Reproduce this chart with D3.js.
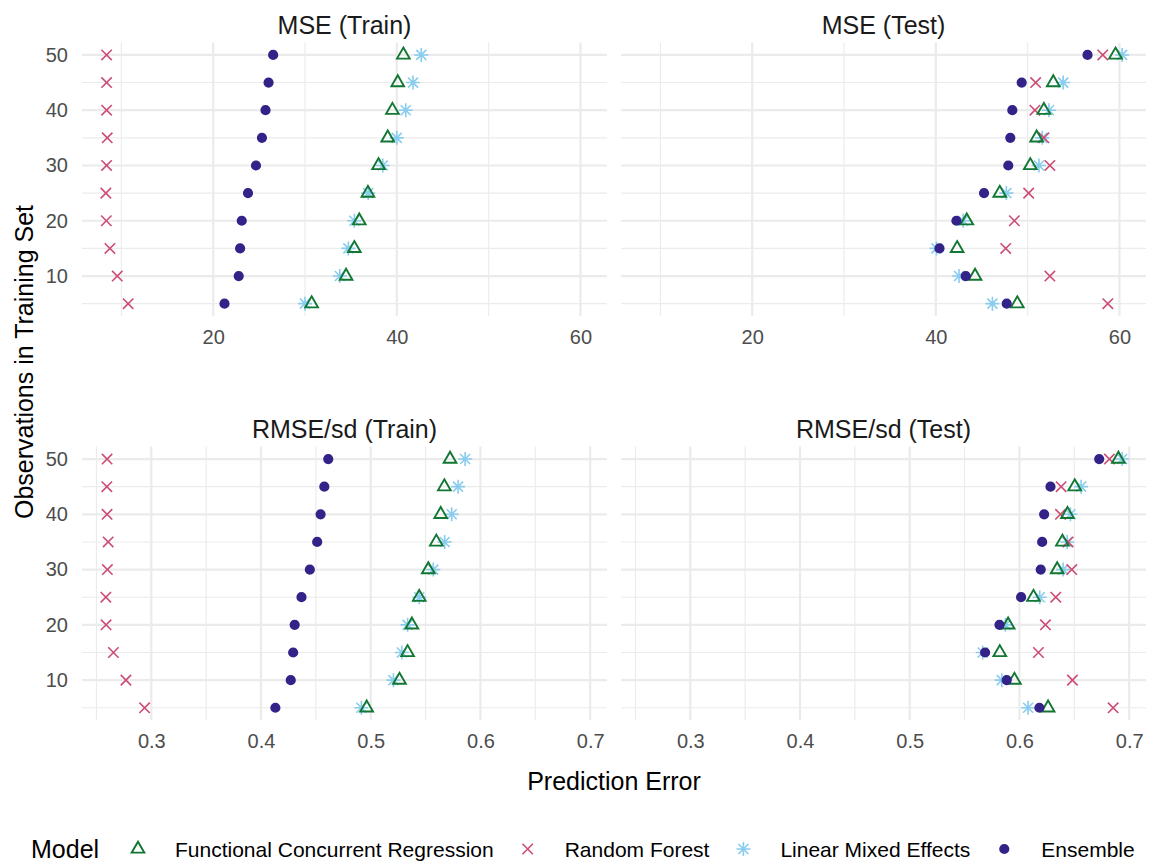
<!DOCTYPE html>
<html>
<head>
<meta charset="utf-8">
<script src="https://cdn.jsdelivr.net/npm/d3@7"></script>
<style>
  body { margin: 0; background: #fff; }
  svg { display: block; font-family: "Liberation Sans", Arial, Helvetica, sans-serif; }
</style>
</head>
<body>
<svg id="chart"></svg>
<script>
// observations in training set, same order for every series below
const obs = [50, 45, 40, 35, 30, 25, 20, 15, 10, 5];

const models = ["Functional Concurrent Regression", "Random Forest", "Linear Mixed Effects", "Ensemble"];
const modelColors = ["#117733", "#CC4C74", "#88CCEE", "#332288"];
const modelShapes = ["triangle", "cross", "asterisk", "circle"];

const panelTitles = ["MSE (Train)", "MSE (Test)", "RMSE/sd (Train)", "RMSE/sd (Test)"];

// MSE (Train)
const mseTrainFCR = [40.71, 40.10, 39.52, 39.01, 38.01, 36.85, 35.91, 35.37, 34.47, 30.72];
const mseTrainRF  = [8.39, 8.39, 8.39, 8.46, 8.39, 8.31, 8.36, 8.75, 9.55, 10.74];
const mseTrainLME = [42.66, 41.76, 40.97, 39.99, 38.47, 36.88, 35.37, 34.72, 33.79, 30.00];
const mseTrainEns = [26.53, 26.03, 25.70, 25.31, 24.66, 23.79, 23.11, 22.93, 22.78, 21.23];

// MSE (Test)
const mseTestFCR = [59.57, 52.79, 51.77, 50.98, 50.29, 46.96, 43.37, 42.32, 44.27, 48.87];
const mseTestRF  = [58.18, 50.87, 50.79, 51.77, 52.42, 50.11, 48.55, 47.61, 52.42, 58.73];
const mseTestLME = [60.29, 53.87, 52.32, 51.59, 51.23, 47.68, 42.97, 40.07, 42.53, 46.16];
const mseTestEns = [56.52, 49.35, 48.33, 48.11, 47.89, 45.25, 42.24, 40.40, 43.26, 47.72];

// RMSE/sd (Train)
const rmseTrainFCR = [0.5723, 0.5671, 0.5638, 0.5598, 0.5525, 0.5442, 0.5375, 0.5336, 0.5262, 0.4963];
const rmseTrainRF  = [0.2597, 0.2595, 0.2597, 0.2607, 0.2600, 0.2586, 0.2588, 0.2655, 0.2769, 0.2939];
const rmseTrainLME = [0.5860, 0.5796, 0.5738, 0.5674, 0.5570, 0.5442, 0.5336, 0.5284, 0.5207, 0.4915];
const rmseTrainEns = [0.4613, 0.4577, 0.4543, 0.4512, 0.4445, 0.4369, 0.4307, 0.4293, 0.4271, 0.4131];

// RMSE/sd (Test)
const rmseTestFCR = [0.6902, 0.6504, 0.6438, 0.6392, 0.6344, 0.6128, 0.5897, 0.5821, 0.5954, 0.6261];
const rmseTestRF  = [0.6820, 0.6380, 0.6374, 0.6444, 0.6477, 0.6331, 0.6237, 0.6173, 0.6483, 0.6854];
const rmseTestLME = [0.6936, 0.6562, 0.6465, 0.6435, 0.6398, 0.6185, 0.5872, 0.5665, 0.5839, 0.6079];
const rmseTestEns = [0.6727, 0.6283, 0.6225, 0.6207, 0.6194, 0.6015, 0.5818, 0.5687, 0.5884, 0.6182];

const panelSeries = [
  [mseTrainFCR, mseTrainRF, mseTrainLME, mseTrainEns],
  [mseTestFCR, mseTestRF, mseTestLME, mseTestEns],
  [rmseTrainFCR, rmseTrainRF, rmseTrainLME, rmseTrainEns],
  [rmseTestFCR, rmseTestRF, rmseTestLME, rmseTestEns]
];

class FacetDotPlot {

  constructor(_config) {
    this.config = {
      parentElement: _config.parentElement,
      width: _config.width || 1157,
      height: _config.height || 864,
      colX: [82, 621],
      rowY: [42.5, 446.6],
      panelWidth: 525,
      panelHeight: 273.6
    };
    this.initVis();
  }

  initVis() {
    let vis = this;

    vis.svg = d3.select(vis.config.parentElement)
        .attr('width', vis.config.width)
        .attr('height', vis.config.height);

    vis.svg.append('rect')
        .attr('width', vis.config.width)
        .attr('height', vis.config.height)
        .attr('fill', '#fff');

    // one long table: panel, model, obs, value
    vis.data = [];
    panelSeries.forEach((series, p) => {
      series.forEach((vals, m) => {
        vals.forEach((v, i) => vis.data.push({panel: p, model: m, obs: obs[i], value: v}));
      });
    });

    // x scale shared by each row, 5% expansion like ggplot
    vis.xScales = [0, 1].map(row => {
      const ext = d3.extent(vis.data.filter(d => Math.floor(d.panel / 2) === row), d => d.value);
      const pad = (ext[1] - ext[0]) * 0.05;
      return d3.scaleLinear().domain([ext[0] - pad, ext[1] + pad]).range([0, vis.config.panelWidth]);
    });

    const yExt = d3.extent(obs);
    const yPad = (yExt[1] - yExt[0]) * 0.05;
    vis.yScale = d3.scaleLinear()
        .domain([yExt[0] - yPad, yExt[1] + yPad])
        .range([vis.config.panelHeight, 0]);

    vis.shapePath = {
      triangle: d3.symbol(d3.symbolTriangle, 70)(),
      cross: 'M-5.2,-5.2L5.2,5.2M-5.2,5.2L5.2,-5.2',
      asterisk: 'M-7,0L7,0M0,-7L0,7M-5,-5L5,5M-5,5L5,-5',
      circle: d3.symbol(d3.symbolCircle, Math.PI * 26)()
    };

    vis.renderVis();
  }

  drawShape(sel, m) {
    let vis = this;
    const shape = modelShapes[m];
    sel.attr('d', vis.shapePath[shape]);
    if (shape === 'circle') {
      sel.attr('fill', modelColors[m]).attr('stroke', 'none');
    } else {
      sel.attr('fill', 'none')
          .attr('stroke', modelColors[m])
          .attr('stroke-width', shape === 'triangle' ? 1.9 : 1.6);
    }
  }

  renderVis() {
    let vis = this;
    const w = vis.config.panelWidth, h = vis.config.panelHeight;

    panelTitles.forEach((title, p) => {
      const row = Math.floor(p / 2), col = p % 2;
      const x = vis.xScales[row];
      const g = vis.svg.append('g')
          .attr('transform', `translate(${vis.config.colX[col]},${vis.config.rowY[row]})`);

      // grid
      const major = x.ticks(row === 0 ? 3 : 5);
      const step = major[1] - major[0];
      const minor = major.map(t => t - step / 2).concat([major[major.length - 1] + step / 2])
          .filter(t => t >= x.domain()[0] && t <= x.domain()[1]);
      const yMajor = [10, 20, 30, 40, 50];
      const yMinor = [5, 15, 25, 35, 45];

      g.selectAll('.xminor').data(minor).join('line')
          .attr('x1', d => x(d)).attr('x2', d => x(d))
          .attr('y1', 0).attr('y2', h)
          .attr('stroke', '#EBEBEB').attr('stroke-width', 1.1);
      g.selectAll('.yminor').data(yMinor).join('line')
          .attr('x1', 0).attr('x2', w)
          .attr('y1', d => vis.yScale(d)).attr('y2', d => vis.yScale(d))
          .attr('stroke', '#EBEBEB').attr('stroke-width', 1.1);
      g.selectAll('.xmajor').data(major).join('line')
          .attr('x1', d => x(d)).attr('x2', d => x(d))
          .attr('y1', 0).attr('y2', h)
          .attr('stroke', '#EBEBEB').attr('stroke-width', 2.2);
      g.selectAll('.ymajor').data(yMajor).join('line')
          .attr('x1', 0).attr('x2', w)
          .attr('y1', d => vis.yScale(d)).attr('y2', d => vis.yScale(d))
          .attr('stroke', '#EBEBEB').attr('stroke-width', 2.2);

      // x axis labels
      const xAxisG = g.append('g')
          .attr('transform', `translate(0,${h})`)
          .call(d3.axisBottom(x).tickValues(major).tickSize(0).tickPadding(14)
              .tickFormat(row === 0 ? d3.format('d') : d3.format('.1f')));
      xAxisG.select('.domain').remove();
      xAxisG.selectAll('text')
          .attr('font-size', 20).attr('fill', '#4D4D4D')
          .attr('font-family', '"Liberation Sans", Arial, sans-serif');

      // y axis labels only on the left column
      if (col === 0) {
        const yAxisG = g.append('g')
            .call(d3.axisLeft(vis.yScale).tickValues(yMajor).tickSize(0).tickPadding(14));
        yAxisG.select('.domain').remove();
        yAxisG.selectAll('text')
            .attr('font-size', 20).attr('fill', '#4D4D4D')
            .attr('font-family', '"Liberation Sans", Arial, sans-serif');
      }

      // strip title
      g.append('text')
          .attr('x', w / 2).attr('y', -9)
          .attr('text-anchor', 'middle')
          .attr('font-size', 25).attr('fill', '#1A1A1A')
          .text(title);

      // points: cyan first, then red, green, navy on top
      const order = [2, 1, 0, 3];
      order.forEach(m => {
        g.selectAll(`.pt${m}`)
            .data(vis.data.filter(d => d.panel === p && d.model === m))
            .join('path')
            .attr('class', `pt${m}`)
            .attr('transform', d => `translate(${x(d.value)},${vis.yScale(d.obs)})`)
            .call(sel => vis.drawShape(sel, m));
      });
    });

    // axis titles
    vis.svg.append('text')
        .attr('transform', 'translate(33,362) rotate(-90)')
        .attr('text-anchor', 'middle')
        .attr('font-size', 25).attr('fill', '#000')
        .text('Observations in Training Set');

    vis.svg.append('text')
        .attr('x', (vis.config.colX[0] + vis.config.colX[1] + w) / 2)
        .attr('y', 790)
        .attr('text-anchor', 'middle')
        .attr('font-size', 25).attr('fill', '#000')
        .text('Prediction Error');

    // legend
    const legend = vis.svg.append('g');
    legend.append('text')
        .attr('x', 31).attr('y', 858)
        .attr('font-size', 25).attr('fill', '#000')
        .text('Model');

    let keyX = 138;
    models.forEach((name, m) => {
      legend.append('path')
          .attr('transform', `translate(${keyX},849)`)
          .call(sel => vis.drawShape(sel, m));
      const label = legend.append('text')
          .attr('x', keyX + 37).attr('y', 857)
          .attr('font-size', 21).attr('fill', '#000')
          .text(name);
      keyX = keyX + 37 + label.node().getComputedTextLength() + 34;
    });
  }
}

let plot = new FacetDotPlot({parentElement: '#chart'});
</script>
</body>
</html>
